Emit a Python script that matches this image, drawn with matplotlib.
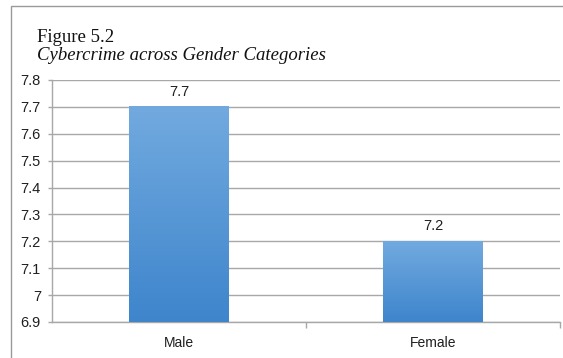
import numpy as np
import matplotlib
matplotlib.use("Agg")
import matplotlib.pyplot as plt
from matplotlib.patches import Rectangle
from matplotlib.colors import LinearSegmentedColormap

categories = ["Male", "Female"]
values = [7.7, 7.2]
y_ticks = [6.9, 7.0, 7.1, 7.2, 7.3, 7.4, 7.5, 7.6, 7.7, 7.8]
y_tick_labels = ["6.9", "7", "7.1", "7.2", "7.3", "7.4", "7.5", "7.6", "7.7", "7.8"]

W, H = 563, 358
fig = plt.figure(figsize=(W / 100, H / 100), dpi=100)
fig.patch.set_facecolor("white")

# Chart frame (runs off the right and bottom edges)
fig.patches.append(Rectangle((11 / W, -0.1), 1.2, (H - 6) / H + 0.1,
                             transform=fig.transFigure, fill=False,
                             edgecolor="#9A9A9A", linewidth=1.0))

fig.text(37 / W, (H - 42) / H, "Figure 5.2", family="Liberation Serif",
         fontsize=13.5, color="#111111", ha="left", va="baseline")
fig.text(37 / W, (H - 60) / H, "Cybercrime across Gender Categories",
         family="Liberation Serif", style="italic", fontsize=13.5,
         color="#111111", ha="left", va="baseline")

ax = fig.add_axes([52 / W, (H - 322) / H, 508 / W, 242 / H])
ax.set_facecolor("white")

grid_c = "#A8A8A8"
text_c = "#1F1F1F"
x = np.arange(len(categories))
bars = ax.bar(x, values, width=0.39, color="none", edgecolor="none", zorder=3)

# Vertical gradient fill for each bar
cmap = LinearSegmentedColormap.from_list("bar", ["#3E85CC", "#72AADF"])
grad = np.linspace(0, 1, 256).reshape(-1, 1)
for b in bars:
    x0, w = b.get_x(), b.get_width()
    top = b.get_height()
    ax.imshow(grad, cmap=cmap, origin="lower", aspect="auto",
              extent=(x0, x0 + w, 6.9, top), zorder=3, interpolation="bilinear")
ax.set_xlim(-0.5, len(categories) - 0.5)
ax.set_ylim(6.9, 7.8)

for xi, v in zip(x, values):
    ax.annotate(f"{v:g}", (xi, v), xytext=(0, 6), textcoords="offset points",
                ha="center", va="bottom", family="Liberation Sans",
                fontsize=10.5, color=text_c)

ax.set_yticks(y_ticks)
ax.set_yticklabels(y_tick_labels, family="Liberation Sans", fontsize=10.5,
                   color=text_c)
ax.yaxis.grid(True, color=grid_c, linewidth=1.0, zorder=0)
ax.set_axisbelow(True)

ax.set_xticks(x)
ax.set_xticklabels(categories, family="Liberation Sans", fontsize=10,
                   color=text_c)
ax.tick_params(axis="x", which="major", length=0, pad=10)
ax.set_xticks([0.5, 1.5], minor=True)
ax.tick_params(axis="x", which="minor", length=4, width=1.0, color=grid_c,
               direction="out")
ax.tick_params(axis="y", length=3, width=1.0, color=grid_c, pad=5)

for s in ("top", "right"):
    ax.spines[s].set_visible(False)
for s in ("left", "bottom"):
    ax.spines[s].set_color(grid_c)
    ax.spines[s].set_linewidth(1.0)

fig.savefig("out.png", dpi=100, facecolor="white")
